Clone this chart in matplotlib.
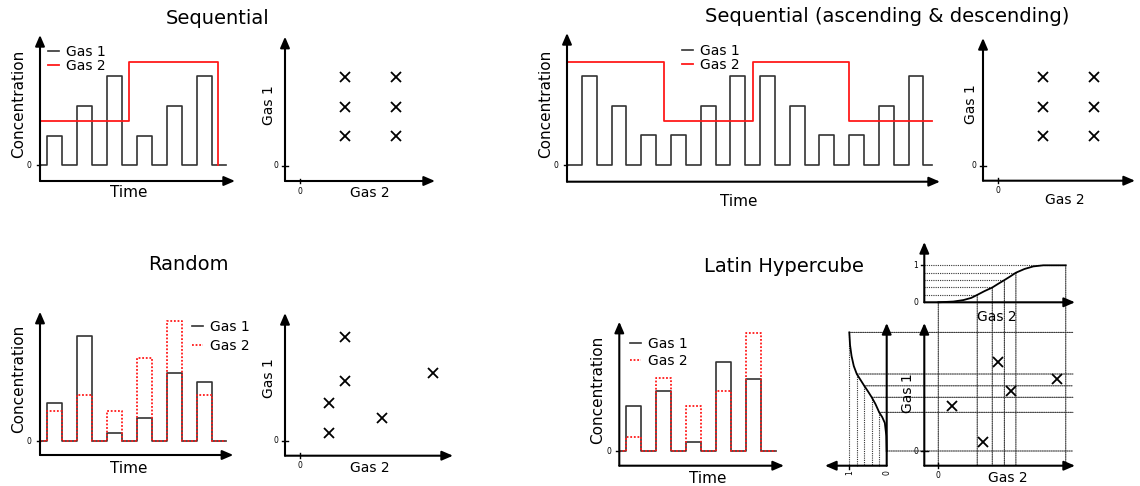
import matplotlib.pyplot as plt
from matplotlib.patches import ConnectionPatch

W, H = 1140, 486
UNIT = 29.5      # px per concentration unit
TSTEP = 15.0     # px per time unit

BLACK = '#333333'
RED = '#ff1a1a'

# --- Sequential -------------------------------------------------------
seq_gas1 = [1, 2, 3, 1, 2, 3]
seq_pulse_start = 0.45
seq_t_end = 12.4
seq_gas2_edges = [0, 5.93, 11.85]
seq_gas2 = [1.5, 3.5]
seq_grid_gas2 = [1.52, 3.25]
seq_grid_gas1 = [1, 2, 3]

# --- Sequential (ascending & descending) ------------------------------
asc_gas1 = [3, 2, 1, 1, 2, 3, 3, 2, 1, 1, 2, 3]
asc_pulse_start = 1.0
asc_t_end = 24.6
asc_gas2_edges = [0, 6.5, 12.5, 19.0, 24.6]
asc_gas2 = [3.5, 1.5, 3.5, 1.5]

# --- Random -----------------------------------------------------------
rand_gas1 = [1.28, 3.55, 0.27, 0.77, 2.29, 2.01]
rand_gas2 = [1.03, 1.55, 1.03, 2.80, 4.07, 1.55]
rand_pulse_start = 0.45
rand_t_end = 12.4
rand_pts_gas2 = [0.98, 1.53, 0.98, 2.77, 4.52, 1.53]
rand_pts_gas1 = [1.27, 3.53, 0.25, 0.76, 2.28, 2.02]

# --- Latin hypercube --------------------------------------------------
lhs_gas1 = [1.53, 2.02, 0.30, 3.03, 2.43]
lhs_gas2 = [0.46, 2.47, 1.52, 2.03, 4.01]
lhs_pulse_start = 0.47
lhs_t_end = 10.43
lhs_probs = [0, 0.2, 0.4, 0.6, 0.8, 1.0]
lhs_gas2_edges = [0, 1.32, 1.83, 2.24, 2.63, 4.32]
lhs_gas1_edges = [0, 1.31, 1.82, 2.21, 2.61, 4.02]
cdf2_x = [0, 0.51, 0.85, 1.12, 1.32, 1.56, 1.83, 2.03, 2.24, 2.44, 2.63, 2.92, 3.22, 3.56, 4.32]
cdf2_p = [0, 0.02, 0.06, 0.12, 0.2, 0.3, 0.4, 0.5, 0.6, 0.7, 0.8, 0.9, 0.97, 1.0, 1.0]
cdf1_g = [0, 0.51, 0.95, 1.15, 1.31, 1.59, 1.82, 2.02, 2.21, 2.41, 2.61, 2.88, 3.22, 3.59, 4.02]
cdf1_p = [0, 0.01, 0.05, 0.12, 0.2, 0.3, 0.4, 0.5, 0.6, 0.7, 0.8, 0.88, 0.94, 0.98, 1.0]

fig = plt.figure(figsize=(W / 100, H / 100), dpi=100)


def panel(left, top, right, bottom, ox, oy, sx=UNIT, sy=UNIT):
    # axes placed in pixel space, data scaled so one unit = sx / sy px
    ax = fig.add_axes([left / W, 1 - bottom / H, (right - left) / W, (bottom - top) / H])
    ax.set_xlim((left - ox) / sx, (right - ox) / sx)
    ax.set_ylim((oy - bottom) / sy, (oy - top) / sy)
    ax.axis('off')
    return ax


def ftext(x, y, s, **kw):
    fig.text(x / W, 1 - y / H, s, ha='center', va='center', **kw)


def arrow(ax, start, end):
    ax.annotate('', xy=end, xytext=start, annotation_clip=False,
                arrowprops=dict(arrowstyle='-|>,head_length=0.65,head_width=0.28',
                                lw=1.5, color='black', shrinkA=0, shrinkB=0))


def axes_arrows(ax):
    x0, x1 = ax.get_xlim()
    y0, y1 = ax.get_ylim()
    arrow(ax, (x0, y0), (x0, y1))
    arrow(ax, (x0, y0), (x1, y0))


def zero_label(ax, xy, off, ha, va, rot=0):
    ax.annotate('0', xy=xy, xytext=off, textcoords='offset points',
                ha=ha, va=va, fontsize=5.5, rotation=rot, annotation_clip=False)


def pulse_xy(levels, start, end, period=2.0, width=1.0):
    xs, ys = [0.0], [0.0]
    for i, lev in enumerate(levels):
        s = start + i * period
        xs += [s, s, s + width, s + width]
        ys += [0, lev, lev, 0]
    xs.append(end)
    ys.append(0)
    return xs, ys


def hold_xy(edges, levels, drop=False):
    xs, ys = [], []
    for i, lev in enumerate(levels):
        xs += [edges[i], edges[i + 1]]
        ys += [lev, lev]
    if drop:
        xs.append(edges[-1])
        ys.append(0)
    return xs, ys


def time_panel(ax, legend_xy, spacing):
    axes_arrows(ax)
    x0 = ax.get_xlim()[0]
    ax.plot([x0 - 0.2, x0], [0, 0], color='black', lw=1.0, clip_on=False)
    zero_label(ax, (x0, 0), (-6, 0), 'right', 'center')
    ax.legend(loc='upper left', bbox_to_anchor=(legend_xy[0] / W, 1 - legend_xy[1] / H),
              bbox_transform=fig.transFigure, frameon=False, fontsize=10,
              handlelength=0.8, handletextpad=0.5, borderpad=0, borderaxespad=0,
              labelspacing=spacing)


def scatter_panel(ax, gx, gy):
    axes_arrows(ax)
    x0 = ax.get_xlim()[0]
    y0 = ax.get_ylim()[0]
    ax.plot([x0 - 0.11, x0 + 0.11], [0, 0], color='black', lw=1.0, clip_on=False)
    ax.plot([0, 0], [y0 - 0.08, y0 + 0.08], color='black', lw=1.0, clip_on=False)
    zero_label(ax, (x0, 0), (-4.5, 0), 'right', 'center')
    zero_label(ax, (0, y0), (0, -4), 'center', 'top')
    ax.plot(gx, gy, 'x', color='black', ms=7, mew=1.3, zorder=5)


# Sequential
ax1 = panel(40, 35, 235, 181, ox=40, oy=165, sx=TSTEP)
ax1.plot(*pulse_xy(seq_gas1, seq_pulse_start, seq_t_end), color=BLACK, lw=1.2, label='Gas 1')
ax1.plot(*hold_xy(seq_gas2_edges, seq_gas2, drop=True), color=RED, lw=1.3, label='Gas 2')
time_panel(ax1, (47.7, 44.5), 0.05)

ax2 = panel(285, 36.7, 435, 181, ox=300, oy=165.7)
scatter_panel(ax2, [g for g in seq_grid_gas2 for _ in seq_grid_gas1],
              [c for _ in seq_grid_gas2 for c in seq_grid_gas1])

# Sequential (ascending & descending)
ax3 = panel(567, 33, 940, 181.7, ox=567, oy=165, sx=14.85)
ax3.plot(*pulse_xy(asc_gas1, asc_pulse_start, asc_t_end), color=BLACK, lw=1.2, label='Gas 1')
ax3.plot(*hold_xy(asc_gas2_edges, asc_gas2), color=RED, lw=1.3, label='Gas 2')
time_panel(ax3, (681.7, 44), 0.0)

ax4 = panel(983, 38, 1135, 180.7, ox=998, oy=166)
scatter_panel(ax4, [g for g in seq_grid_gas2 for _ in seq_grid_gas1],
              [c for _ in seq_grid_gas2 for c in seq_grid_gas1])

# Random
ax5 = panel(40, 311.7, 233.3, 455, ox=40, oy=441, sx=TSTEP)
ax5.plot(*pulse_xy(rand_gas1, rand_pulse_start, rand_t_end), color=BLACK, lw=1.2, label='Gas 1')
ax5.plot(*pulse_xy(rand_gas2, rand_pulse_start, rand_t_end), color=RED, lw=1.3,
         ls=(0, (1, 1)), label='Gas 2')
time_panel(ax5, (191.7, 319.5), 0.4)

ax6 = panel(285, 313, 453, 455.7, ox=300, oy=440.7)
scatter_panel(ax6, rand_pts_gas2, rand_pts_gas1)

# Latin hypercube, time series
ax7 = panel(619.3, 321.7, 784, 465.7, ox=619.3, oy=451, sx=TSTEP)
ax7.plot(*pulse_xy(lhs_gas1, lhs_pulse_start, lhs_t_end), color=BLACK, lw=1.2, label='Gas 1')
ax7.plot(*pulse_xy(lhs_gas2, lhs_pulse_start, lhs_t_end), color=RED, lw=1.3,
         ls=(0, (1, 1)), label='Gas 2')
time_panel(ax7, (630, 336.5), 0.25)

# Latin hypercube, sampling plane with marginal CDFs
grid_kw = dict(color='#333333', lw=0.8, ls=(0, (1, 1)))
ax_main = panel(924.3, 323, 1075, 465.7, ox=938.3, oy=451)
ax_top = panel(924.3, 242, 1075, 302.3, ox=938.3, oy=302.3, sy=37.0)
ax_left = panel(825, 323, 886.7, 465.7, ox=886.7, oy=451, sx=-37.4)

scatter_panel(ax_main, lhs_gas2, lhs_gas1)
main_bottom = ax_main.get_ylim()[0]
main_right = ax_main.get_xlim()[1] - 0.07

axes_arrows(ax_top)
ax_top.plot(cdf2_x, cdf2_p, color='black', lw=1.3, clip_on=False, zorder=4)
top_left = ax_top.get_xlim()[0]
for b, p in zip(lhs_gas2_edges, lhs_probs):
    if p > 0:
        ax_top.plot([top_left, b], [p, p], clip_on=False, zorder=1, **grid_kw)
    con = ConnectionPatch(xyA=(b, p), coordsA=ax_top.transData,
                          xyB=(b, main_bottom), coordsB=ax_main.transData, **grid_kw)
    con.set_zorder(-1)
    fig.add_artist(con)
ax_top.plot([top_left - 0.1, top_left], [1, 1], color='black', lw=1.0, clip_on=False)
ax_top.annotate('1', xy=(top_left, 1), xytext=(-4.5, 0), textcoords='offset points',
                ha='right', va='center', fontsize=5.5)
zero_label(ax_top, (top_left, 0), (-4.5, 0), 'right', 'center')

left_bottom = ax_left.get_ylim()[0]
arrow(ax_left, (0, left_bottom), (0, ax_left.get_ylim()[1]))
arrow(ax_left, (0, left_bottom), (ax_left.get_xlim()[0], left_bottom))
ax_left.plot(cdf1_p, cdf1_g, color='black', lw=1.3, clip_on=False, zorder=4)
for g, p in zip(lhs_gas1_edges, lhs_probs):
    if p > 0:
        ax_left.plot([p, p], [g, left_bottom], clip_on=False, zorder=1, **grid_kw)
    con = ConnectionPatch(xyA=(p, g), coordsA=ax_left.transData,
                          xyB=(main_right, g), coordsB=ax_main.transData, **grid_kw)
    con.set_zorder(-1)
    fig.add_artist(con)
ax_left.plot([1, 1], [left_bottom, left_bottom - 0.1], color='black', lw=1.0, clip_on=False)
ax_left.annotate('1', xy=(1, left_bottom), xytext=(0, -3), textcoords='offset points',
                 ha='center', va='top', fontsize=5.5, rotation=90)
zero_label(ax_left, (0, left_bottom), (0, -3), 'center', 'top', rot=90)

# axis labels and titles
for x, y in [(18.3, 104), (545.7, 104), (18.3, 379), (598, 390)]:
    ftext(x, y, 'Concentration', fontsize=11, rotation=90)
for x, y in [(129, 192.7), (738.3, 201.7), (129, 468.3), (708, 478)]:
    ftext(x, y, 'Time', fontsize=11)
for x, y in [(269.2, 105), (971, 104), (269, 378.3), (908, 393)]:
    ftext(x, y, 'Gas 1', fontsize=10, rotation=90)
for x, y in [(370, 193.3), (1065, 200), (370, 468.3), (1008, 478), (996.7, 316.7)]:
    ftext(x, y, 'Gas 2', fontsize=10)

ftext(217.5, 19, 'Sequential', fontsize=14)
ftext(887.5, 17, 'Sequential (ascending & descending)', fontsize=14)
ftext(188.7, 264, 'Random', fontsize=14)
ftext(784, 266, 'Latin Hypercube', fontsize=14)

fig.savefig('out.png', dpi=100)
